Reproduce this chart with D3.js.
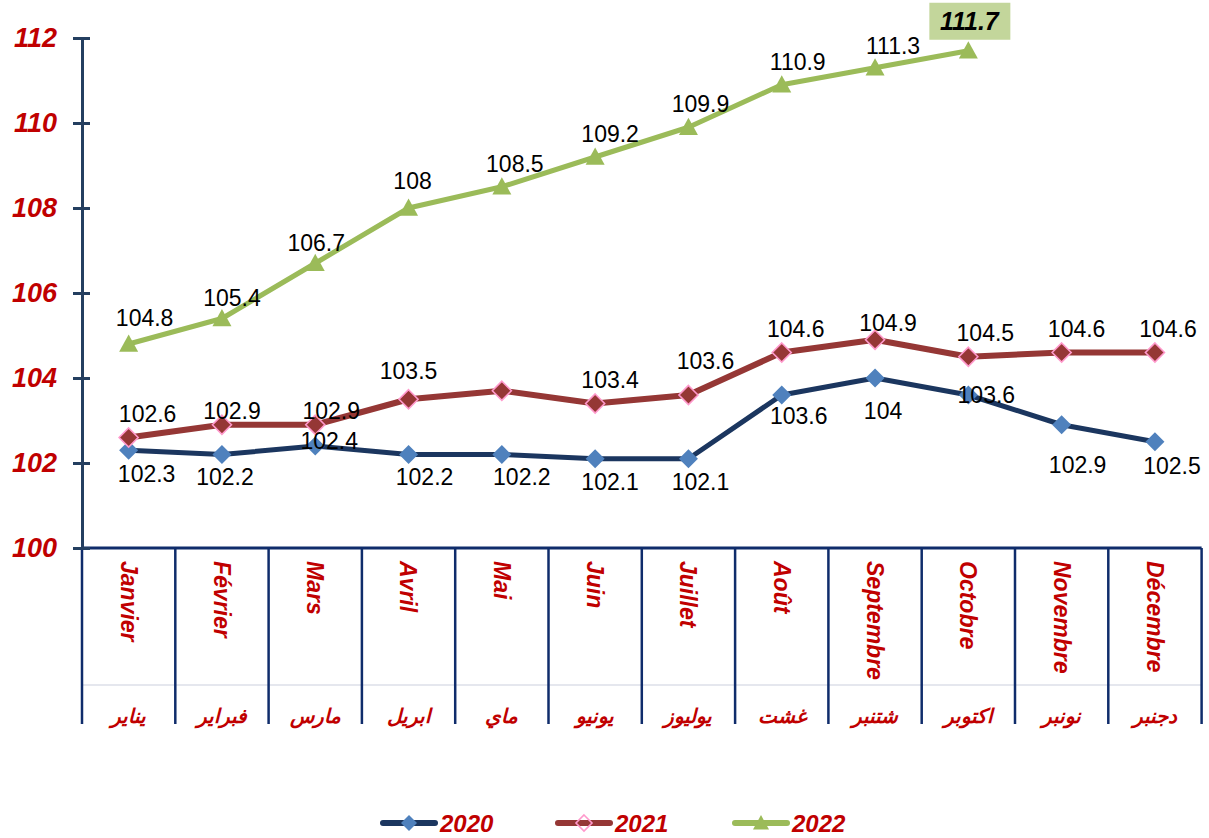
<!DOCTYPE html>
<html>
<head>
<meta charset="utf-8">
<script src="https://cdn.jsdelivr.net/npm/d3@7"></script>
<style>
    body { margin: 0; background: #fff; }
    svg { display: block; }
    .val { font-family: Arial, "Liberation Sans", sans-serif; font-size: 23px; fill: #000; }
    .red { fill: #C00000; font-family: Arial, "Liberation Sans", sans-serif; font-style: italic; font-weight: bold; }
</style>
</head>
<body>
<svg id="chart" width="1209" height="838"></svg>
<script>
// months (fr / ar)
var months = ['Janvier', 'Février', 'Mars', 'Avril', 'Mai', 'Juin', 'Juillet', 'Août', 'Septembre', 'Octobre', 'Novembre', 'Décembre'];
var monthsAr = ['يناير', 'فبراير', 'مارس', 'ابريل', 'ماي', 'يونيو', 'يوليوز', 'غشت', 'شتنبر', 'اكتوبر', 'نونبر', 'دجنبر'];
var yTicks = [100, 102, 104, 106, 108, 110, 112];

// index values
var values2020 = [102.3, 102.2, 102.4, 102.2, 102.2, 102.1, 102.1, 103.6, 104, 103.6, 102.9, 102.5];
var values2021 = [102.6, 102.9, 102.9, 103.5, 103.7, 103.4, 103.6, 104.6, 104.9, 104.5, 104.6, 104.6];
var values2022 = [104.8, 105.4, 106.7, 108, 108.5, 109.2, 109.9, 110.9, 111.3, 111.7];

// 2021 Mai has no label in the original
var hideLabel2021 = [4];

// hand placed label nudges (dx, dy) like in the source workbook
var nudge2020 = [[18, 24], [3, 22], [14, -5], [16, 22], [20, 22], [15, 23], [12, 23], [17, 21], [8, 33], [18, 0], [16, 40], [17, 24]];
var nudge2021 = [[19, -24], [10, -14], [16, -14], [0, -28], [0, -24], [15, -24], [17, -34], [14, -24], [13, -17], [17, -24], [15, -24], [13, -24]];
var nudge2022 = [[16, -26], [10, -21], [1, -20], [4, -27], [13, -23], [15, -23], [12, -23], [16, -23], [18, -22], [1, -30]];

var svg = d3.select('#chart');

var margin = {top: 38, left: 82},
    width = 1119.6,
    height = 510;

var g = svg.append('g')
    .attr('transform', 'translate(' + margin.left + ',' + margin.top + ')');

var xScale = d3.scaleBand().domain(months).range([0, width]).padding(0);
var yScale = d3.scaleLinear().domain([100, 112]).range([height, 0]);
var cx = d => xScale(d) + xScale.bandwidth() / 2;

// category area: dividers + labels
var catBottom = 176;
g.append('line')
    .attr('x1', 0).attr('x2', width)
    .attr('y1', height + 137).attr('y2', height + 137)
    .attr('stroke', '#dcdfe8').attr('stroke-width', 1.5);

var edges = months.map(m => xScale(m)).concat([width]);
g.selectAll('.divider')
    .data(edges)
    .enter().append('line')
    .attr('class', 'divider')
    .attr('x1', d => d).attr('x2', d => d)
    .attr('y1', height).attr('y2', height + catBottom)
    .attr('stroke', '#0F2C6B').attr('stroke-width', 2.5);

g.append('line')
    .attr('x1', 0).attr('x2', width)
    .attr('y1', height).attr('y2', height)
    .attr('stroke', '#0F2C6B').attr('stroke-width', 3);

g.selectAll('.month')
    .data(months)
    .enter().append('text')
    .attr('class', 'month red')
    .attr('transform', d => 'translate(' + cx(d) + ',' + (height + 13) + ') rotate(90)')
    .attr('dy', '0.35em')
    .style('font-size', '23px')
    .text(d => d);

g.selectAll('.month-ar')
    .data(monthsAr)
    .enter().append('text')
    .attr('class', 'month-ar red')
    .attr('x', (d, i) => cx(months[i]))
    .attr('y', height + 175)
    .attr('text-anchor', 'middle')
    .attr('direction', 'rtl')
    .style('font-size', '20px')
    .style('font-family', 'Arial, "DejaVu Sans", sans-serif')
    .text(d => d);

// y axis
var yAxisCall = d3.axisLeft(yScale)
    .tickValues(yTicks)
    .tickSizeInner(9)
    .tickSizeOuter(0)
    .tickPadding(16)
    .tickFormat(d3.format('d'));

var yAxis = g.append('g').attr('class', 'y-axis').call(yAxisCall);
yAxis.select('.domain').attr('stroke', '#243F60').attr('stroke-width', 3);
yAxis.selectAll('.tick line').attr('x1', 8).attr('stroke', '#243F60').attr('stroke-width', 3);
yAxis.selectAll('.tick text')
    .attr('class', 'red')
    .style('font-size', '27px');

// series
var series = [
    {name: '2020', values: values2020, nudge: nudge2020, hide: [], line: '#1B365F', width: 5, marker: 'diamond', fill: '#4F81BD', stroke: 'none'},
    {name: '2021', values: values2021, nudge: nudge2021, hide: hideLabel2021, line: '#953735', width: 6, marker: 'diamond', fill: '#953735', stroke: '#FF99CC'},
    {name: '2022', values: values2022, nudge: nudge2022, hide: [values2022.length - 1], line: '#9BBB59', width: 5, marker: 'triangle', fill: '#9BBB59', stroke: 'none'}
];

var symbolPath = function (s, size) {
    if (s.marker === 'triangle') {
        var h = size * 0.9;
        return 'M0,' + (-h * 0.55) + 'L' + (size / 2) + ',' + (h * 0.45) + 'L' + (-size / 2) + ',' + (h * 0.45) + 'Z';
    }
    var r = size / 2;
    return 'M0,' + (-r) + 'L' + r + ',0L0,' + r + 'L' + (-r) + ',0Z';
};

var valueline = d3.line()
    .x((d, i) => cx(months[i]))
    .y(d => yScale(d));

series.forEach(function (s) {
    g.append('path')
        .attr('class', 'line-' + s.name)
        .attr('d', valueline(s.values))
        .attr('fill', 'none')
        .attr('stroke', s.line)
        .attr('stroke-width', s.width)
        .attr('stroke-linejoin', 'round');
});

series.forEach(function (s) {
    g.append('g').attr('class', 'node-' + s.name)
        .selectAll('path')
        .data(s.values)
        .enter().append('path')
        .attr('transform', (d, i) => 'translate(' + cx(months[i]) + ',' + yScale(d) + ')')
        .attr('d', symbolPath(s, 19))
        .attr('fill', s.fill)
        .attr('stroke', s.stroke)
        .attr('stroke-width', 1.6);
});

// data labels
series.forEach(function (s) {
    var pts = s.values
        .map((v, i) => ({v: v, i: i}))
        .filter(p => !s.hide.includes(p.i));
    g.append('g').attr('class', 'labels-' + s.name)
        .selectAll('text')
        .data(pts)
        .enter().append('text')
        .attr('class', 'val')
        .attr('x', p => cx(months[p.i]) + s.nudge[p.i][0])
        .attr('y', p => yScale(p.v) + s.nudge[p.i][1])
        .attr('dy', '0.35em')
        .attr('text-anchor', 'middle')
        .text(p => p.v);
});

// highlighted last value of 2022
var lastIdx = values2022.length - 1;
var hx = cx(months[lastIdx]) + nudge2022[lastIdx][0],
    hy = yScale(values2022[lastIdx]) + nudge2022[lastIdx][1];
g.append('rect')
    .attr('x', hx - 40).attr('y', hy - 18)
    .attr('width', 81).attr('height', 37)
    .attr('fill', '#C3D69B');
g.append('text')
    .attr('x', hx).attr('y', hy)
    .attr('dy', '0.35em')
    .attr('text-anchor', 'middle')
    .style('font-family', 'Arial, "Liberation Sans", sans-serif')
    .style('font-size', '25px')
    .style('font-weight', 'bold')
    .style('font-style', 'italic')
    .text(values2022[lastIdx]);

// legend
var legendX = [381, 556, 733];
var legend = svg.append('g').attr('class', 'legend').attr('transform', 'translate(0,823)');
series.forEach(function (s, i) {
    var lg = legend.append('g').attr('transform', 'translate(' + legendX[i] + ',0)');
    lg.append('line')
        .attr('x1', 2).attr('x2', 54)
        .attr('stroke', s.line)
        .attr('stroke-width', 6)
        .attr('stroke-linecap', 'round');
    lg.append('path')
        .attr('transform', 'translate(28,0)')
        .attr('d', symbolPath(s, 16))
        .attr('fill', s.name === '2021' ? 'none' : s.fill)
        .attr('stroke', s.stroke)
        .attr('stroke-width', 1.6);
    lg.append('text')
        .attr('class', 'red')
        .attr('x', 59)
        .attr('dy', '0.36em')
        .style('font-size', '24px')
        .text(s.name);
});
</script>
</body>
</html>
